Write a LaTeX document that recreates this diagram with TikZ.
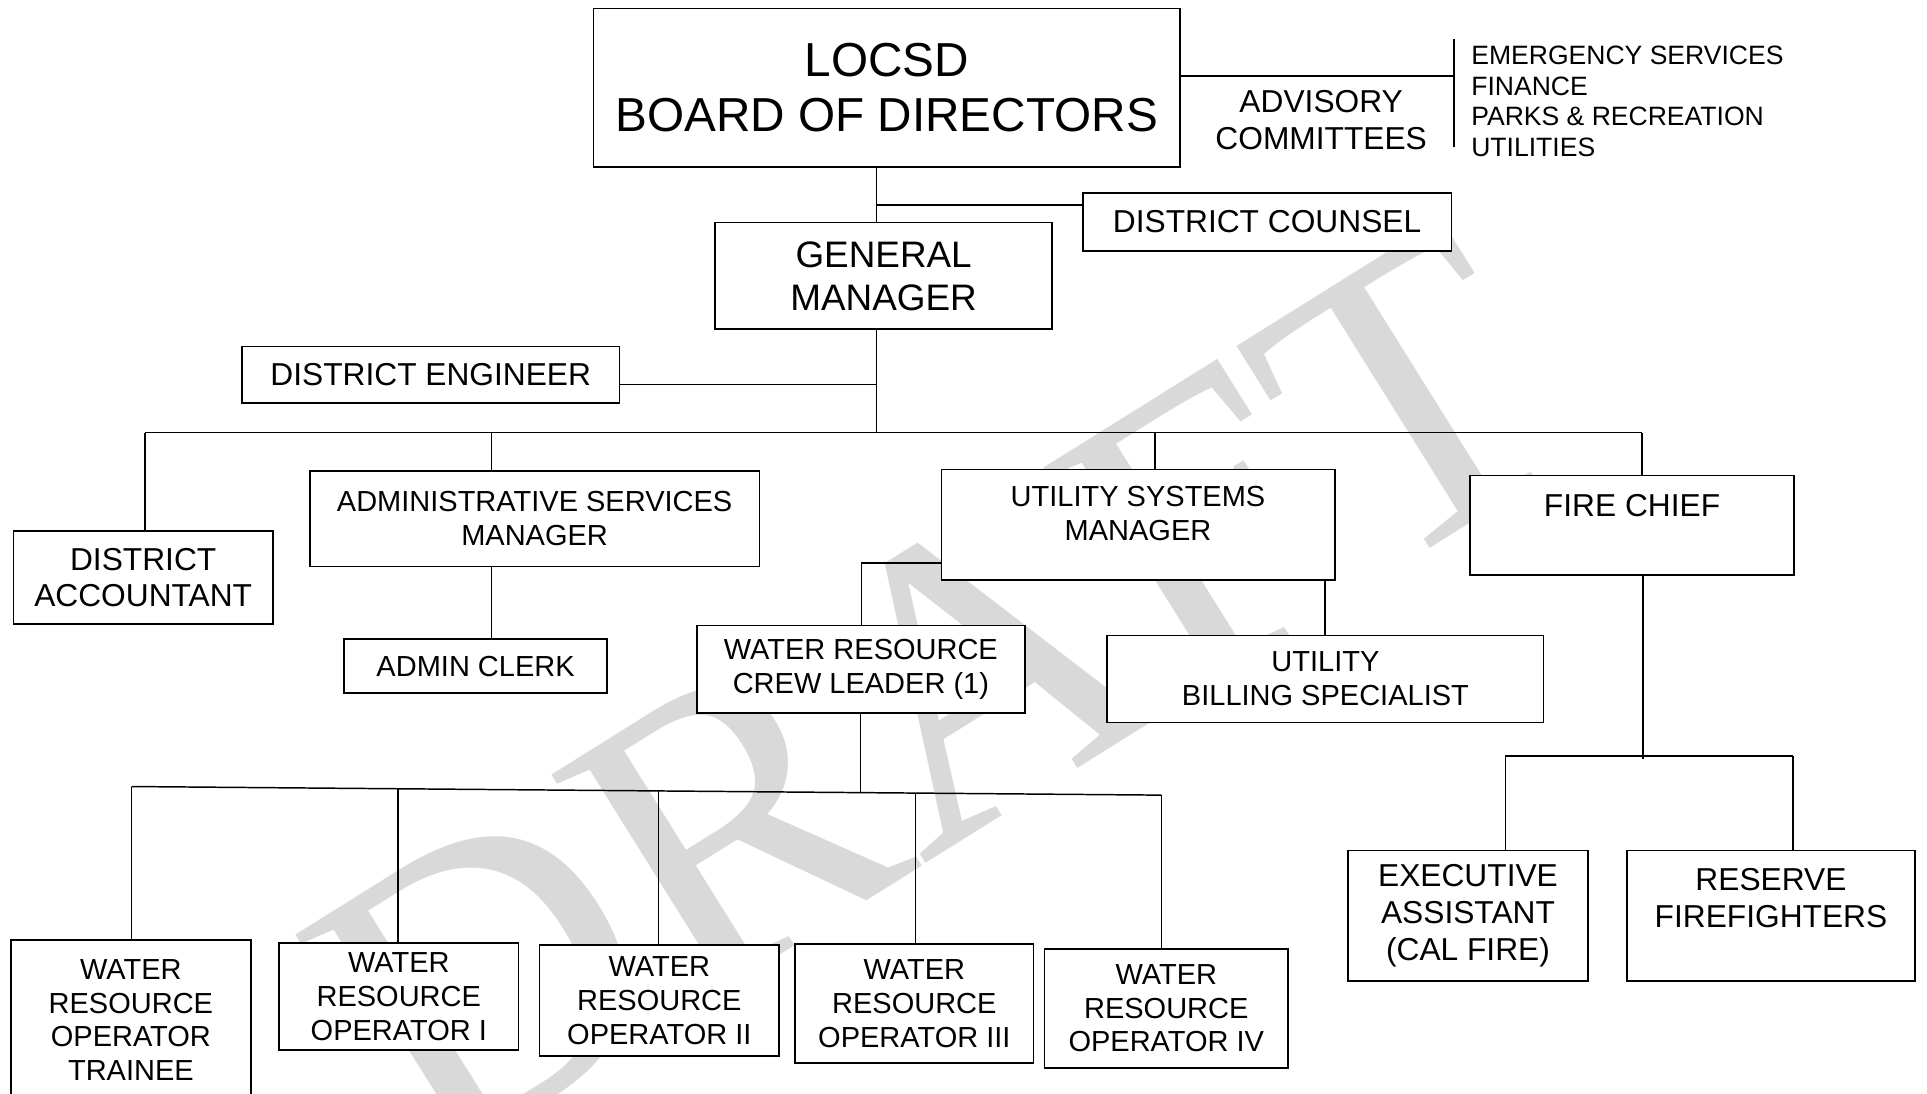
\documentclass[tikz,border=0pt]{standalone}
\usepackage{fontspec}
\setmainfont{Liberation Sans}
\newfontfamily\wmfont{Liberation Serif}
\definecolor{wmgray}{HTML}{D9D9D9}
\begin{document}
\begin{tikzpicture}[x=1pt,y=-1pt,
  box/.style={draw=black,fill=white,line width=1.4pt,inner sep=0pt,align=center},
  wire/.style={line width=1.2pt},
  fhuge/.style={font={\fontsize{38.8}{45}\selectfont}},
  fbig/.style={font={\fontsize{30}{35}\selectfont}},
  fmid/.style={font={\fontsize{25.8}{30}\selectfont}},
  fsm/.style={font={\fontsize{23.6}{27.5}\selectfont}},
  flist/.style={font={\fontsize{21.6}{25}\selectfont}},
  wmark/.style={font={\wmfont\fontsize{340}{340}\selectfont},text=wmgray,inner sep=0pt}]

\clip (0,0) rectangle (1568,890);
\fill[white] (0,0) rectangle (1568,890);

% watermark behind the chart
\node[wmark,anchor=base west,rotate=32] (wm) at (350,955) {DRAFT};

% junction points
\coordinate (trunk) at (713,0);
\coordinate (dcj) at (713,167);
\coordinate (dej) at (713,313);
\coordinate (busL) at (118,352);
\coordinate (busR) at (1336,352);
\coordinate (advj) at (1183,62);
\coordinate (advT) at (1183,32);
\coordinate (advB) at (1183,120);
\coordinate (usmj) at (701,458);
\coordinate (wbL) at (107,640);
\coordinate (wbR) at (945,647);
\coordinate (wb1) at (324,641.8);
\coordinate (wb2) at (536,643.5);
\coordinate (wbc) at (700,645);
\coordinate (wb3) at (745,645.3);
\coordinate (fbL) at (1225,615);
\coordinate (fbR) at (1459,615);
\coordinate (fbc) at (1337,618);

% top level
\node[box,fhuge,minimum width=477,minimum height=129] (board) at (721.5,71.5) {LOCSD\\BOARD OF DIRECTORS};
\node[fmid,align=center,inner sep=0pt] (adv) at (1075,98) {ADVISORY\\COMMITTEES};
\node[flist,align=left,anchor=west,inner sep=0pt] (comm) at (1197,82.5) {EMERGENCY SERVICES\\FINANCE\\PARKS \& RECREATION\\UTILITIES};
\node[box,fmid,minimum width=300,minimum height=47] (dc) at (1031,180.5) {DISTRICT COUNSEL};
\node[box,fbig,minimum width=274,minimum height=87] (gm) at (719,224.5) {GENERAL\\MANAGER};
\node[box,fmid,minimum width=307,minimum height=46] (de) at (350.5,305) {DISTRICT ENGINEER};

% second level
\node[box,fmid,minimum width=211,minimum height=76] (da) at (116.5,470) {DISTRICT\\ACCOUNTANT};
\node[box,fsm,minimum width=366,minimum height=78] (asm) at (435,422) {ADMINISTRATIVE SERVICES\\MANAGER};
\node[box,fsm,minimum width=214,minimum height=44] (clerk) at (387,542) {ADMIN CLERK};
\node[box,minimum width=320,minimum height=90] (usm) at (926,427) {};
\node[fsm,align=center,inner sep=0pt] (usmt) at (926,418) {UTILITY SYSTEMS\\MANAGER};
\node[box,fsm,minimum width=267,minimum height=71] (crew) at (700.5,544.5) {WATER RESOURCE\\CREW LEADER (1)};
\node[box,fsm,minimum width=355,minimum height=71] (bill) at (1078.5,552.5) {UTILITY\\BILLING SPECIALIST};
\node[box,minimum width=264,minimum height=81] (fc) at (1328,427.5) {};
\node[fmid,inner sep=0pt] (fct) at (1328,411) {FIRE CHIEF};

% fire department
\node[box,fmid,minimum width=195,minimum height=106] (exec) at (1194.5,745) {EXECUTIVE\\ASSISTANT\\(CAL FIRE)};
\node[box,minimum width=234,minimum height=106] (res) at (1441,745) {};
\node[fmid,align=center,inner sep=0pt] (rest) at (1441,730.5) {RESERVE\\FIREFIGHTERS};

% water resource operators
\node[box,fsm,minimum width=195,minimum height=130] (op0) at (106.5,830) {WATER\\RESOURCE\\OPERATOR\\TRAINEE};
\node[box,fsm,minimum width=195,minimum height=87] (op1) at (324.5,811) {WATER\\RESOURCE\\OPERATOR I};
\node[box,fsm,minimum width=195,minimum height=90] (op2) at (536.5,814) {WATER\\RESOURCE\\OPERATOR II};
\node[box,fsm,minimum width=194,minimum height=97] (op3) at (744,816.5) {WATER\\RESOURCE\\OPERATOR III};
\node[box,fsm,minimum width=198,minimum height=97] (op4) at (949,820.5) {WATER\\RESOURCE\\OPERATOR IV};

% connectors
\draw[wire] (board.east |- advj) -- (advj);
\draw[wire] (advT) -- (advB);
\draw[wire] (trunk |- board.south) -- (trunk |- gm.north);
\draw[wire] (dcj) -- (dcj -| dc.west);
\draw[wire] (trunk |- gm.south) -- (trunk |- busL);
\draw[wire] (dej) -- (dej -| de.east);
\draw[wire] (busL) -- (busR);
\draw[wire] (busL) -- (busL |- da.north);
\draw[wire] (asm.north -| 400,0) -- (400,352);
\draw[wire] (usm.north -| 940,0) -- (940,352);
\draw[wire] (busR) -- (busR |- fc.north);
\draw[wire] (asm.south -| 400,0) -- (clerk.north -| 400,0);
\draw[wire] (usmj -| usm.west) -- (usmj) -- (usmj |- crew.north);
\draw[wire] (usm.south -| 1078,0) -- (bill.north -| 1078,0);
\draw[wire] (wbc |- crew.south) -- (wbc);
\draw[wire] (wbL) -- (wbR);
\draw[wire] (wbL) -- (wbL |- op0.north);
\draw[wire] (wb1) -- (wb1 |- op1.north);
\draw[wire] (wb2) -- (wb2 |- op2.north);
\draw[wire] (wb3) -- (wb3 |- op3.north);
\draw[wire] (wbR) -- (wbR |- op4.north);
\draw[wire] (fbc |- fc.south) -- (fbc);
\draw[wire] (fbL) -- (fbR);
\draw[wire] (fbL) -- (fbL |- exec.north);
\draw[wire] (fbR) -- (fbR |- res.north);
\end{tikzpicture}
\end{document}
